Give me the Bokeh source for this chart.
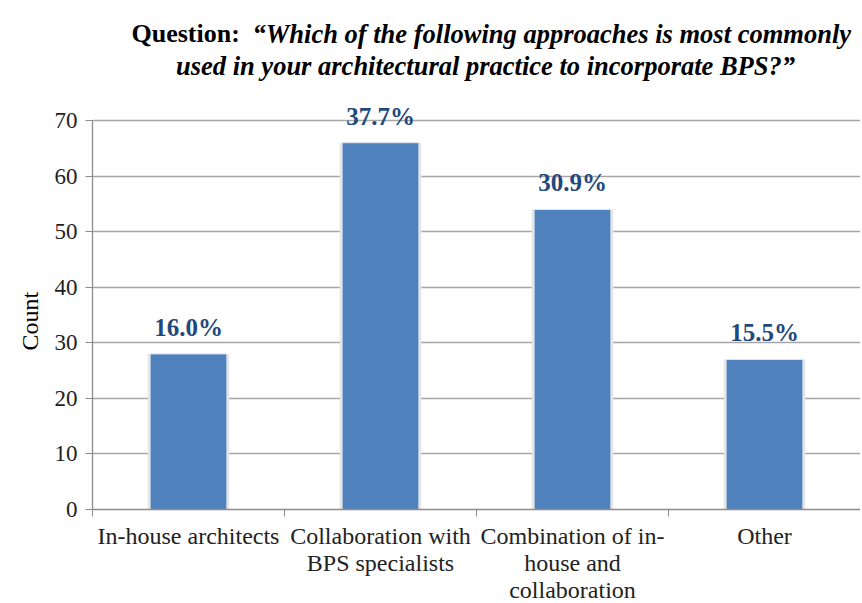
from bokeh.plotting import figure
from bokeh.models import ColumnDataSource, FixedTicker, Label, LabelSet, Range1d, Title
from bokeh.embed import file_html
from bokeh.resources import INLINE

categories = ["In-house architects", "Collaboration with\nBPS specialists",
              "Combination of in-\nhouse and\ncollaboration", "Other"]
counts = [28, 66, 54, 27]
pct_labels = ["16.0%", "37.7%", "30.9%", "15.5%"]
y_ticks = [0, 10, 20, 30, 40, 50, 60, 70]
y_max = 70

FONT = "Liberation Serif"
n = len(categories)
xs = [i + 0.5 for i in range(n)]

# layout (pixels)
FRAME_W = 768
FRAME_H = 509          # frame spans from canvas top to the x axis
AXIS_TOP = 120         # pixel row of the y = 70 gridline
y_end = y_max * FRAME_H / (FRAME_H - AXIS_TOP)

src = ColumnDataSource(dict(x=xs, top=counts, lab=pct_labels))

p = figure(frame_width=FRAME_W, frame_height=FRAME_H,
           x_range=Range1d(0, n), y_range=Range1d(0, y_end),
           output_backend="svg", toolbar_location=None,
           min_border_top=0, min_border_left=92, min_border_right=0, min_border_bottom=0)
p.outline_line_color = None
p.background_fill_color = "white"

# bars with light shadow halo
p.vbar(x="x", top="top", width=0.425, source=src, fill_color="#e6e6e6", line_color=None)
p.vbar(x="x", top="top", width=0.4, source=src, fill_color="#4F81BD",
       line_color="#dfe8f3", line_width=1)

labels = LabelSet(x="x", y="top", text="lab", source=src, text_align="center",
                  text_baseline="alphabetic", y_offset=18,
                  text_font=FONT, text_font_style="bold", text_font_size="25px",
                  text_color="#1F497D")
p.add_layout(labels)

# y axis
p.yaxis.ticker = FixedTicker(ticks=y_ticks)
p.yaxis.bounds = (0, y_max)
p.ygrid.ticker = FixedTicker(ticks=y_ticks)
p.ygrid.grid_line_color = "#a6a6a6"
p.ygrid.grid_line_width = 1.3
p.xgrid.visible = False
p.yaxis.major_label_text_font = FONT
p.yaxis.major_label_text_font_size = "23px"
p.yaxis.major_label_text_color = "#222222"
p.yaxis.major_tick_out = 7
p.yaxis.major_tick_in = 0
p.yaxis.minor_tick_line_color = None
p.yaxis.major_label_standoff = 8
p.yaxis.axis_line_color = "#8c8c8c"
p.yaxis.major_tick_line_color = "#8c8c8c"
p.yaxis.axis_line_width = 1.3

# y axis title, placed along the 0-70 span
p.add_layout(Title(text="Count", align="left", offset=159, standoff=18,
                   text_font=FONT, text_font_style="normal", text_font_size="24px",
                   text_color="black"), "left")

# x axis: labels at centers, tick marks at category boundaries
p.xaxis.ticker = FixedTicker(ticks=xs, minor_ticks=list(range(n + 1)))
p.xaxis.major_label_overrides = {x: c for x, c in zip(xs, categories)}
p.xaxis.major_tick_line_color = None
p.xaxis.major_tick_out = 0
p.xaxis.major_tick_in = 0
p.xaxis.minor_tick_out = 7
p.xaxis.minor_tick_in = 0
p.xaxis.minor_tick_line_color = "#8c8c8c"
p.xaxis.axis_line_color = "#8c8c8c"
p.xaxis.axis_line_width = 1.3
p.xaxis.major_label_text_font = FONT
p.xaxis.major_label_text_font_size = "24px"
p.xaxis.major_label_text_color = "#222222"
p.xaxis.major_label_text_line_height = 1.05
p.xaxis.major_label_standoff = 6

# title (mixed styles) as labels in the top part of the frame
p.add_layout(Label(x=39, y=FRAME_H - 33, x_units="screen", y_units="screen",
                   text="Question:", text_font=FONT, text_font_style="bold",
                   text_font_size="26px", text_color="black", text_baseline="alphabetic"))
p.add_layout(Label(x=160, y=FRAME_H - 33, x_units="screen", y_units="screen",
                   text="\u201cWhich of the following approaches is most commonly",
                   text_font=FONT, text_font_style="bold italic",
                   text_font_size="26.5px", text_color="black", text_baseline="alphabetic"))
p.add_layout(Label(x=393, y=FRAME_H - 65, x_units="screen", y_units="screen",
                   text="used in your architectural practice to incorporate BPS?\u201d",
                   text_font=FONT, text_font_style="bold italic", text_align="center",
                   text_font_size="26.5px", text_color="black", text_baseline="alphabetic"))

open("out.html", "w").write(file_html(p, INLINE))
